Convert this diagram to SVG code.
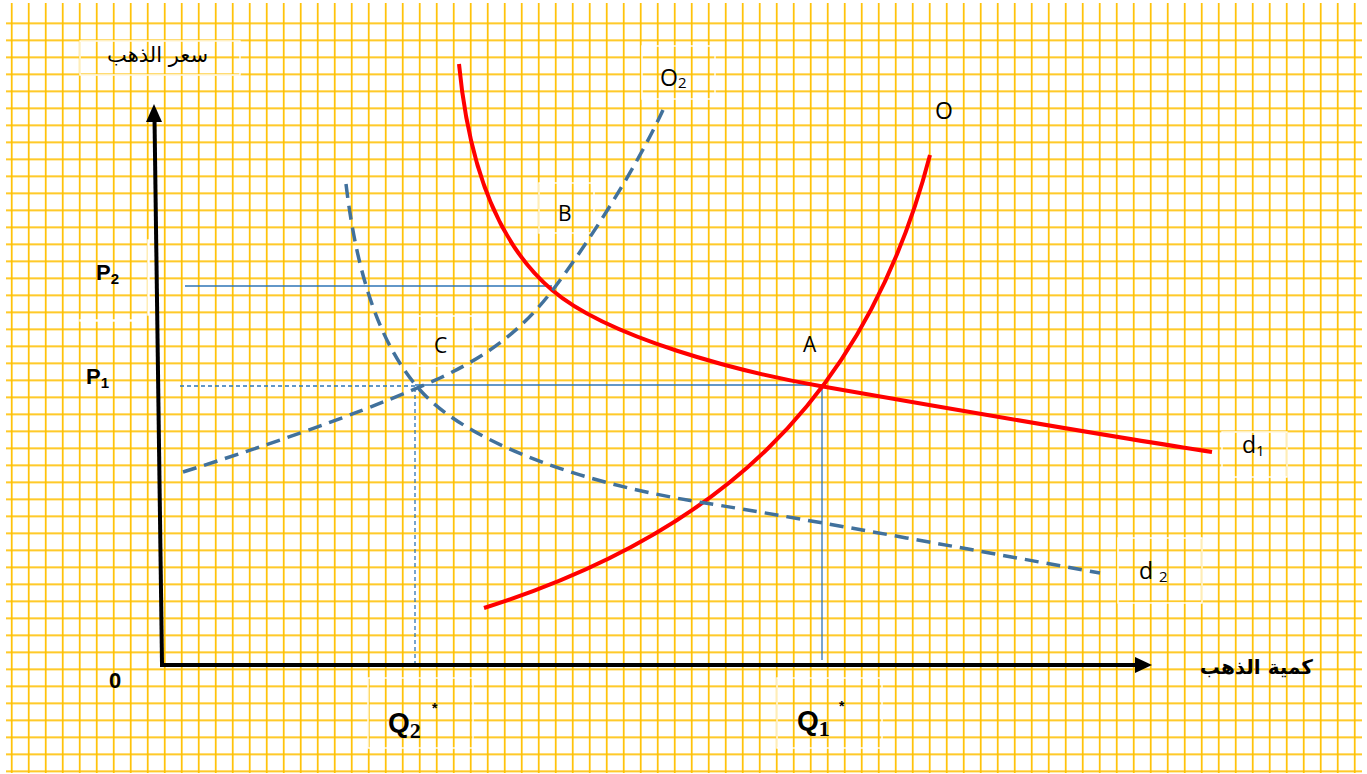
<svg xmlns="http://www.w3.org/2000/svg" width="1367" height="774" viewBox="0 0 1367 774">
<style>
.lbl{font-family:"Open Sans","Noto Sans","Liberation Sans",sans-serif;fill:#000;}
.bold{font-family:"Liberation Sans",Arial,sans-serif;font-weight:bold;fill:#000;}
.ar{font-family:"DejaVu Sans",sans-serif;fill:#000;}
.red{fill:none;stroke:#FF0000;stroke-width:4;stroke-linecap:butt;}
.dash{fill:none;stroke:#41719C;stroke-width:3.5;stroke-dasharray:14 8;}
.guide{stroke:#2E75B6;stroke-width:1.3;fill:none;}
.guided{stroke:#2E75B6;stroke-width:1.3;fill:none;stroke-dasharray:4 3;}
.box{fill:none;stroke:#FFFFFF;stroke-width:1.4;}
</style>
<defs>
<pattern id="vgrid" patternUnits="userSpaceOnUse" x="10.85" y="0" width="17" height="17">
<rect x="0" y="0" width="1.7" height="17" fill="#FFC000"/>
</pattern>
<pattern id="hgrid" patternUnits="userSpaceOnUse" x="0" y="5.45" width="17" height="17">
<rect x="0" y="0" width="17" height="1.7" fill="#FFC000"/>
</pattern>
</defs>
<rect width="1367" height="774" fill="#FFFFFF"/>
<g id="grid">
<rect x="6" y="3" width="1356" height="770" fill="url(#vgrid)"/>
<rect x="6" y="20" width="1356" height="753" fill="url(#hgrid)"/>
</g>
<g id="label-boxes">
<rect class="box" x="80" y="41" width="160" height="34"/>
<rect class="box" x="642" y="46" width="73" height="53"/>
<rect class="box" x="539" y="183" width="55" height="50"/>
<rect class="box" x="418" y="316" width="55" height="50"/>
<rect class="box" x="148" y="240" width="1" height="75"/>
<rect class="box" x="80" y="320" width="60" height="1"/>
<rect class="box" x="1222" y="432" width="65" height="45"/>
<rect class="box" x="1118" y="538" width="84" height="65"/>
<rect class="box" x="368" y="678" width="105" height="70"/>
<rect class="box" x="777" y="678" width="105" height="70"/>
</g>
<g id="connectors">
<g id="guides">
<line class="guide" x1="185" y1="286" x2="552" y2="286"/>
<line class="guided" x1="180" y1="386" x2="415" y2="386"/>
<line class="guide" x1="415" y1="385" x2="822" y2="385"/>
<line class="guided" x1="415" y1="388" x2="415" y2="664"/>
<line class="guide" x1="822" y1="386" x2="822" y2="660"/>
</g>
<g id="axes">
<line x1="162" y1="663" x2="154.5" y2="118" stroke="#000" stroke-width="4"/>
<polygon points="154,104 146,122 162,122" fill="#000"/>
<line x1="160" y1="665" x2="1138" y2="665" stroke="#000" stroke-width="4"/>
<polygon points="1152,665 1135,657 1135,673" fill="#000"/>
</g>
<path id="curve-d1" class="red" d="M459,64 C470,180 505,250 552,290 C608,338 740,372 820,386 C900,400 1100,435 1212,452"/>
<path id="curve-O" class="red" d="M484,608 C712,536 865,405 930,155"/>
<path id="curve-O2" class="dash" d="M183,472 C300,435 380,405 440,378 C500,350 530,320 555,287 C590,240 635,170 663,110"/>
<path id="curve-d2" class="dash" d="M346,184 C355,260 375,340 420,390 C460,435 560,480 705,503 C800,518 1000,555 1100,573"/>
</g>
<g id="labels">
<text class="ar" x="208" y="62" font-size="21" text-anchor="end">سعر الذهب</text>
<text class="ar" x="1313" y="674" font-size="20" font-weight="bold" text-anchor="end">كمية الذهب</text>
<text class="bold" x="109" y="688" font-size="22">0</text>
<text class="bold" x="96" y="280" font-size="22">P<tspan font-size="15" dy="4">2</tspan></text>
<text class="bold" x="86" y="384" font-size="22">P<tspan font-size="15" dy="4">1</tspan></text>
<text class="bold" x="388" y="732" font-size="28">Q<tspan font-family="Liberation Serif,serif" font-size="22" dy="6">2</tspan></text>
<text class="bold" x="432" y="713" font-size="14">*</text>
<text class="bold" x="797" y="730" font-size="28">Q<tspan font-family="Liberation Serif,serif" font-size="22" dy="6">1</tspan></text>
<text class="bold" x="839" y="711" font-size="14">*</text>
<text class="lbl" x="660" y="86" font-size="23">O<tspan font-size="15" dy="2">2</tspan></text>
<text class="lbl" x="935" y="119" font-size="23">O</text>
<text class="lbl" x="558" y="221" font-size="21">B</text>
<text class="lbl" x="434" y="353" font-size="21">C</text>
<text class="lbl" x="803" y="352" font-size="21">A</text>
<text class="lbl" x="1242" y="453" font-size="23">d<tspan font-size="15" dy="3">1</tspan></text>
<text class="lbl" x="1139" y="579" font-size="23">d <tspan font-size="15" dy="3">2</tspan></text>
</g>
</svg>
